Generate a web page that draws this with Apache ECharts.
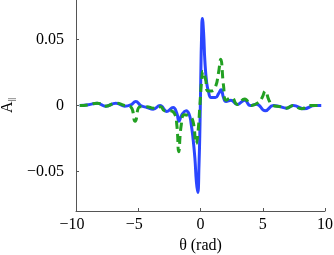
<!DOCTYPE html>
<html><head><meta charset="utf-8">
<script src="https://cdn.jsdelivr.net/npm/echarts@6/dist/echarts.min.js"></script>
<style>html,body{margin:0;padding:0;background:#fff}#c{width:334px;height:255px}</style>
</head><body><div id="c"></div>
<script>
var xTicks = [-10, -5, 0, 5, 10];
var yTicks = [-0.05, 0, 0.05];
var blueSolid = [
  [-9.7, 0], [-9.0, 0.0005], [-8.3, 0.0018], [-7.6, -0.0005], [-6.8, 0.0018], [-6.1, -0.0005],
  [-5.6, 0.0005], [-5.2, 0.003], [-4.8, 0.0], [-4.3, -0.0015], [-3.8, -0.0028], [-3.25, 0.0],
  [-2.7, -0.0045], [-2.2, -0.0015], [-1.9, -0.006], [-1.73, -0.012], [-1.5, -0.007], [-1.15, -0.004],
  [-0.9, -0.007], [-0.75, -0.014], [-0.6, -0.025], [-0.45, -0.04], [-0.33, -0.058], [-0.22, -0.066],
  [-0.12, -0.045], [-0.04, -0.014], [0.02, 0.02], [0.08, 0.05], [0.15, 0.066], [0.25, 0.055],
  [0.35, 0.034], [0.5, 0.017], [0.63, 0.011], [0.85, 0.006], [1.2, 0.006], [1.45, 0.009],
  [1.65, 0.012], [1.85, 0.006], [2.05, 0.003], [2.45, 0.004], [2.95, 0.0008], [3.55, 0.004],
  [4.0, 0.0], [4.5, 0.001], [5.2, -0.004], [5.85, 0.0], [6.35, -0.0008], [6.9, -0.002],
  [7.45, 0.0], [8.3, -0.0025], [9.2, 0.0], [9.7, 0.0]
];
var greenDashed = [
  [-9.7, 0], [-9.0, 0.0005], [-8.3, 0.0018], [-7.6, -0.0005], [-6.8, 0.0018], [-6.1, 0],
  [-5.6, -0.001], [-5.25, -0.012], [-4.85, -0.001], [-4.3, -0.001], [-3.8, -0.002], [-3.2, -0.001],
  [-2.9, -0.004], [-2.5, -0.004], [-2.1, -0.006], [-1.9, -0.015], [-1.75, -0.035], [-1.55, -0.015],
  [-1.3, -0.007], [-0.9, -0.008], [-0.6, -0.012], [-0.35, -0.029], [-0.2, -0.02], [-0.05, 0],
  [0.1, 0.02], [0.2, 0.026], [0.4, 0.02], [0.6, 0.011], [0.9, 0.011], [1.2, 0.014],
  [1.45, 0.025], [1.62, 0.035], [1.85, 0.015], [2.05, 0.004], [2.5, 0.006], [2.95, 0.0008],
  [3.55, 0.005], [4.1, 0], [4.6, 0.002], [4.95, 0.006], [5.2, 0.011], [5.5, 0.004],
  [5.8, 0.0], [6.35, -0.0008], [6.9, -0.002], [7.45, 0], [8.1, -0.0025], [8.8, 0], [9.7, 0]
];
function fmt(v){ if (Math.abs(v) < 1e-9) return '0'; var s = String(v); return s.replace('-', '\u2212'); }
var chart = echarts.init(document.getElementById('c'), null, {renderer: 'canvas'});
var font = 'Liberation Serif';
chart.setOption({
  animation: false,
  grid: {left: 76, right: 9, top: 0, bottom: 44, containLabel: false, outerBoundsMode: 'none'},
  xAxis: {
    type: 'value', min: -10, max: 10, interval: 5,
    axisLine: {show: true, onZero: false, lineStyle: {color: '#555', width: 1}},
    axisTick: {show: true, inside: true, length: 3, lineStyle: {color: '#555'}},
    splitLine: {show: false},
    axisLabel: {fontFamily: font, fontSize: 16, color: '#000', margin: 6,
      rich: {n: {fontFamily: font, fontSize: 16, color: '#000', padding: [0, 8, 0, 0]}},
      formatter: function(v){
        if (xTicks.indexOf(v) < 0) return '';
        return v < 0 ? '{n|' + fmt(v) + '}' : fmt(v);
      }},
    name: '\u03b8 (rad)', nameLocation: 'middle', nameGap: 27,
    nameTextStyle: {fontFamily: font, fontSize: 16, color: '#000'}
  },
  yAxis: {
    type: 'value', min: -0.08, max: 0.08, interval: 0.05,
    axisLine: {show: true, onZero: false, lineStyle: {color: '#555', width: 1}},
    axisTick: {show: true, inside: true, length: 3, lineStyle: {color: '#555'},
      customValues: yTicks},
    splitLine: {show: false},
    axisLabel: {fontFamily: font, fontSize: 16, color: '#000', margin: 12,
      customValues: yTicks, formatter: function(v){ return fmt(Math.round(v*100)/100); }},
    name: '{a|A}{s|||}', nameLocation: 'middle', nameGap: 60, nameRotate: 90,
    nameTextStyle: {fontFamily: font, fontSize: 16, color: '#000',
      rich: {a: {fontFamily: font, fontSize: 16, color: '#000'},
             s: {fontFamily: font, fontSize: 9, color: '#000', verticalAlign: 'bottom', padding: [6, 0, 0, 0]}}}
  },
  series: [
    {type: 'line', data: blueSolid, smooth: 0.5, showSymbol: false,
     lineStyle: {color: '#2b46ff', width: 3}, z: 2},
    {type: 'line', data: greenDashed, smooth: 0.5, showSymbol: false,
     lineStyle: {color: '#22a022', width: 3, type: [8, 5]}, z: 3}
  ]
});
</script></body></html>
